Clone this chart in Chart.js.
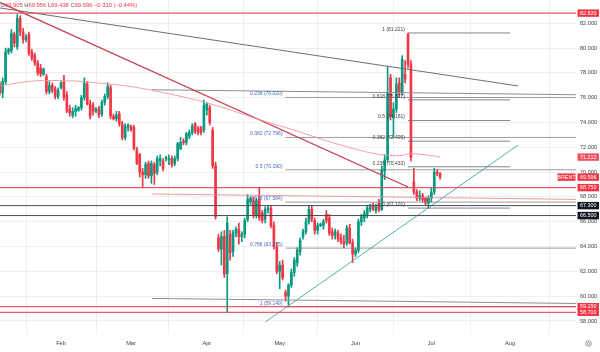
<!DOCTYPE html>
<html><head><meta charset="utf-8">
<script src="https://cdn.jsdelivr.net/npm/chart.js@4.4.1/dist/chart.umd.min.js"></script>
<style>html,body{margin:0;padding:0;background:#fff;overflow:hidden}canvas{display:block}</style>
</head><body>
<canvas id="c" width="600" height="352"></canvas>
<script>
// ---- data (daily bars, index 0 = 8 Jan) ----
const openP = [77.1,76.4,77.3,79.7,79.8,81.1,80.1,82.4,81.3,80.7, 81.1,79.7,79.4,78.8,78.4,77.9,77.7,76.5,77.0,76.7, 76.1,76.8,77.3,76.2,75.1,74.6,74.9,75.0,75.2,76.0, 77.1,75.5,75.4,74.9,75.1,74.7,75.6,76.1,76.8,74.5, 74.3,74.7,73.9,72.8,73.6,73.7,73.6,71.8,71.4,70.0, 69.8,70.7,69.7,70.6,70.0,70.9,70.9,71.1,71.0,71.1, 70.7,71.1,71.9,72.5,72.4,72.9,73.2,73.9,73.5,73.6, 73.4,75.0,75.2,73.4,70.5,64.7,63.8,64.8,61.8,65.0, 63.6,65.1,65.4,64.8,65.0,66.2,67.6,67.7,66.5,67.8, 66.7,66.2,67.0,67.1,65.7,64.0,62.0,62.5,60.3,60.0, 60.9,61.9,62.7,63.6,64.8,65.2,66.0,67.0,66.1,65.3, 65.7,65.7,66.6,66.3,65.2,64.9,65.1,64.7,64.4,64.3, 65.5,64.3,63.4,63.7,66.0,66.3,66.6,67.0,67.3,66.9, 67.5,67.0,70.1,71.0,77.6,74.4,75.1,77.2,76.4,77.9, 81.1,78.7,69.2,68.4,67.9,68.1,67.9,67.5,67.9,68.4, 70.0,69.905];
const highP = [77.3,77.6,80.0,80.0,81.5,81.3,82.7,82.6,81.6,81.1, 81.3,79.9,79.6,79.0,78.7,78.4,77.9,77.3,77.2,76.9, 76.8,77.3,77.8,76.5,75.4,75.2,75.4,75.3,76.2,77.6, 77.3,75.8,75.6,75.2,75.3,75.8,76.3,77.2,77.0,74.7, 74.9,74.9,74.1,73.9,73.9,73.8,73.8,72.0,71.5,70.3, 70.8,70.9,70.9,70.8,71.3,71.4,71.1,71.3,71.4,71.3, 71.3,72.4,72.8,72.7,73.2,73.4,73.9,74.0,73.7,73.7, 75.8,75.6,75.4,73.6,70.8,65.0,65.2,65.3,66.4,65.3, 65.3,65.6,65.9,65.2,66.3,68.2,68.0,68.0,67.9,68.75, 66.9,67.2,67.3,67.3,66.0,64.3,62.8,62.9,60.5,61.0, 62.2,63.1,63.9,64.7,65.4,66.3,67.3,67.3,66.3,65.9, 65.9,66.2,66.9,66.6,65.5,65.4,65.3,65.0,64.9,65.7, 65.8,64.6,63.9,66.2,66.6,66.9,67.3,67.4,67.5,67.4, 67.8,70.5,71.4,78.5,77.9,75.6,77.6,77.6,79.4,79.0, 81.221,79.0,70.3,68.6,68.5,68.3,68.0,68.1,68.7,70.3, 70.2,69.956];
const lowP = [76.2,76.0,77.1,79.5,79.6,80.1,79.9,81.0,80.4,80.5, 79.4,79.0,78.6,77.8,77.7,77.8,76.3,76.3,76.4,75.9, 75.9,76.7,75.8,74.8,74.5,74.4,74.5,74.9,75.0,75.8, 75.4,74.3,74.6,74.8,74.4,74.5,75.4,75.9,74.3,74.2, 74.1,73.7,72.6,72.6,73.3,73.3,71.8,70.6,69.6,68.75, 69.5,69.5,69.1,69.0,69.8,70.5,70.1,70.9,70.6,70.4, 70.5,70.9,71.8,72.2,72.2,72.7,73.0,73.1,73.0,73.0, 73.2,74.6,73.8,70.3,66.2,63.6,62.5,61.5,58.7,62.9, 63.2,64.8,64.2,64.4,64.7,66.0,67.4,66.3,66.3,66.1, 65.9,65.9,66.7,65.5,63.8,61.8,60.6,61.3,59.6,59.149, 60.7,61.6,62.4,63.3,64.6,65.0,65.8,66.0,65.0,65.0, 65.6,65.4,65.9,64.9,64.6,64.6,64.4,64.2,63.9,64.1, 64.2,62.7,63.2,63.5,65.7,66.0,66.3,66.8,66.9,66.7, 66.8,66.9,69.4,70.8,74.2,72.8,74.8,76.1,76.2,77.2, 78.4,70.9,68.2,67.7,67.7,67.6,67.3,67.101,67.6,68.2, 69.7,69.438];
const closeP = [76.4,77.3,79.7,79.9,81.2,80.4,82.4,81.3,80.7,80.9, 79.6,79.2,78.8,78.0,77.9,78.3,76.5,77.0,76.6,76.1, 76.6,77.2,76.0,74.9,74.8,74.9,75.1,75.2,76.0,77.2, 75.5,74.5,74.9,75.1,74.6,75.6,76.1,76.9,74.5,74.3, 74.6,73.9,72.8,73.7,73.8,73.4,71.9,70.7,70.0,69.8, 70.6,69.7,70.7,69.9,71.1,71.1,70.3,71.15,71.05,70.6, 71.1,72.3,72.4,72.4,73.1,73.2,73.7,73.3,73.2,73.2, 75.4,75.5,74.0,70.5,66.4,63.8,64.8,61.8,65.9,63.5, 65.1,65.4,64.8,65.0,66.1,67.8,67.9,66.5,67.7,66.3, 66.1,67.0,67.1,65.7,64.0,62.0,62.5,61.5,60.0,60.9, 61.9,62.9,63.7,64.5,65.2,66.0,67.0,66.2,65.3,65.7, 65.8,66.0,66.1,65.1,64.9,65.2,64.6,64.4,64.2,65.5, 64.3,63.4,63.7,66.0,66.4,66.7,67.1,67.2,67.0,67.2, 67.0,70.2,71.0,76.4,74.5,75.1,77.1,76.4,79.1,77.5, 78.7,71.2,68.4,67.9,68.1,67.8,67.5,67.9,68.4,70.0, 69.906,69.596];

const monthTickIdx = [21, 45, 71, 96, 122, 148, 175];
const monthLabels = ['Feb', 'Mar', 'Apr', 'May', 'Jun', 'Jul', 'Aug'];
const priceTicks = [58, 60, 62, 64, 66, 68, 70, 72, 74, 76, 78, 80, 82];

const maIdx = [0, 7, 15, 26, 34, 45, 52, 60, 69, 79, 89, 100, 110, 120, 130, 137, 141, 146, 151];
const maVal = [76.94, 77.22, 77.39, 77.35, 77.18, 76.90, 76.60, 76.22, 75.72, 75.02, 74.23, 73.46, 72.68, 71.98, 71.43, 71.33, 71.49, 71.40, 71.212];

const redLevels = [82.820, 68.750, 59.150, 58.700];
const blackLevels = [67.300, 66.500];

const fibARatios = [0.236, 0.382, 0.5, 0.618, 0.786, 1];
const fibAValues = [76.020, 72.796, 70.190, 67.584, 63.875, 59.149];
const fibAStart = 98;
const fibBRatios = [1, 0.618, 0.5, 0.382, 0.236, 0];
const fibBValues = [81.221, 75.827, 74.161, 72.495, 70.433, 67.101];
const fibBStart = 140, fibBEnd = 175;

const trendRed = [[0, 83.68], [140, 68.80]];
const trendGray = [[0, 83.24], [177.7, 76.95]];
const trendTeal = [[91.0, 57.91], [177.7, 72.18]];
const chanTop = [[52.2, 76.64], [198, 76.24]];
const chanMid = [[52.2, 68.24], [198, 67.80]];
const chanBot = [[52.2, 59.82], [198, 59.41]];

const symbol = 'BRENT';
const lastPrice = 69.596;
const maLast = 71.212;
const legOpen = 69.905, legHigh = 69.956, legLow = 69.438, legClose = 69.596, legChg = -0.310, legPct = -0.44;

// ---- styling / chart ----
const X_MIN = 0.08, X_MAX = 197.6;
const FONT = '"Liberation Sans", Arial, sans-serif';
const UP = '#089981', DOWN = '#f23645';
const colors = openP.map((o, i) => closeP[i] >= o ? UP : DOWN);

const seg = (pts, color, width, extra) => Object.assign({
  type: 'line', data: pts.map(p => ({x: p[0], y: p[1]})), borderColor: color,
  borderWidth: width, pointRadius: 0, fill: false, order: 1
}, extra || {});

const datasets = [];
datasets.push({
  type: 'bar', data: openP.map((o, i) => ({x: i, y: [lowP[i], highP[i]]})),
  backgroundColor: colors, barThickness: 1, grouped: false, order: 11, minBarLength: 1
});
datasets.push({
  type: 'bar', data: openP.map((o, i) => ({x: i, y: [o, closeP[i]]})),
  backgroundColor: colors, barThickness: 2, grouped: false, order: 10, minBarLength: 1
});
datasets.push(seg(maIdx.map((x, k) => [x, maVal[k]]), 'rgba(240,150,160,0.9)', 1, {cubicInterpolationMode: 'monotone'}));
redLevels.forEach(v => datasets.push(seg([[X_MIN, v], [X_MAX, v]], 'rgba(226,72,88,0.9)', 1.3)));
blackLevels.forEach(v => datasets.push(seg([[X_MIN, v], [X_MAX, v]], '#4a4c52', 1)));
fibAValues.forEach(v => datasets.push(seg([[fibAStart, v], [X_MAX, v]], 'rgba(120,123,134,0.75)', 1)));
fibBValues.forEach(v => datasets.push(seg([[fibBStart, v], [fibBEnd, v]], 'rgba(110,113,124,0.85)', 1)));
datasets.push(seg(trendRed, '#c9404e', 1.3));
datasets.push(seg(trendGray, '#6d6f75', 1));
datasets.push(seg(trendTeal, '#4fb3a8', 1));
datasets.push(seg(chanTop, '#8c8f97', 1));
datasets.push(seg(chanMid, 'rgba(238,140,150,0.9)', 1));
datasets.push(seg(chanBot, '#8c8f97', 1));

const zeroPad = s => { s.paddingTop = 0; s.paddingBottom = 0; s.paddingLeft = 0; s.paddingRight = 0; };

const overlay = {
  id: 'overlay',
  afterDraw(chart) {
    const {ctx, chartArea: ca} = chart;
    const xs = chart.scales.x, ys = chart.scales.y;
    ctx.save();
    ctx.beginPath(); ctx.rect(ca.left, ca.top, ca.right - ca.left, ca.bottom - ca.top); ctx.clip();
    ctx.font = '5px ' + FONT; ctx.textAlign = 'right'; ctx.textBaseline = 'bottom';
    fibARatios.forEach((r, k) => {
      ctx.fillStyle = '#4a69b5';
      ctx.fillText(r + ' (' + fibAValues[k].toFixed(3) + ')', xs.getPixelForValue(fibAStart) - 3, ys.getPixelForValue(fibAValues[k]) - 1);
    });
    fibBRatios.forEach((r, k) => {
      ctx.fillStyle = '#3d3f45';
      ctx.fillText(r + ' (' + fibBValues[k].toFixed(3) + ')', xs.getPixelForValue(fibBStart) - 3, ys.getPixelForValue(fibBValues[k]) - 1);
    });
    // OHLC legend
    ctx.font = '5.8px ' + FONT; ctx.textAlign = 'left'; ctx.textBaseline = 'middle';
    const parts = [['O', '#5d606b'], [legOpen.toFixed(3), DOWN], [' H', '#5d606b'], [legHigh.toFixed(3), DOWN],
      [' L', '#5d606b'], [legLow.toFixed(3), DOWN], [' C', '#5d606b'], [legClose.toFixed(3), DOWN],
      [' \u2212' + Math.abs(legChg).toFixed(3) + ' (\u2212' + Math.abs(legPct).toFixed(2) + '%)', DOWN]];
    let px = 0.5;
    parts.forEach(p => { ctx.fillStyle = p[1]; ctx.fillText(p[0], px, 5); px += ctx.measureText(p[0]).width; });
    ctx.restore();

    // price tags
    ctx.save();
    ctx.font = '5.4px ' + FONT; ctx.textAlign = 'center'; ctx.textBaseline = 'middle';
    const tag = (v, bg, text, x0, w) => {
      const y = ys.getPixelForValue(v);
      ctx.fillStyle = bg; ctx.fillRect(x0, y - 3.7, w, 7.4);
      ctx.fillStyle = '#fff'; ctx.fillText(text, x0 + w / 2, y + 0.3);
    };
    const tx = ca.right + 1.5, tw = 21.5;
    redLevels.forEach(v => tag(v, DOWN, v.toFixed(3), tx, tw));
    blackLevels.forEach(v => tag(v, '#131722', v.toFixed(3), tx, tw));
    tag(maLast, '#f0505f', maLast.toFixed(3), tx, tw);
    tag(lastPrice, DOWN, lastPrice.toFixed(3), tx, tw);
    tag(lastPrice, DOWN, symbol, ca.right - 18.5, 18);
    // settings icon
    ctx.strokeStyle = '#7b7e87'; ctx.lineWidth = 0.8;
    ctx.beginPath(); ctx.arc(588.5, 343.5, 2.8, 0, Math.PI * 2); ctx.stroke();
    ctx.beginPath(); ctx.arc(588.5, 343.5, 1, 0, Math.PI * 2); ctx.stroke();
    ctx.restore();
  }
};

new Chart(document.getElementById('c'), {
  type: 'bar',
  data: {datasets},
  options: {
    responsive: false, animation: false, devicePixelRatio: 1, events: [],
    layout: {padding: 0},
    plugins: {legend: {display: false}, tooltip: {enabled: false}, title: {display: false}},
    scales: {
      x: {
        type: 'linear', min: X_MIN, max: X_MAX, offset: false,
        afterBuildTicks: s => { s.ticks = monthTickIdx.map(v => ({value: v})); },
        afterFit: s => { s.height = 18; zeroPad(s); },
        ticks: {autoSkip: false, maxRotation: 0, padding: 6, color: '#3b3e47',
          font: {size: 5.6, family: FONT},
          callback: v => { const k = monthTickIdx.indexOf(v); return k >= 0 ? monthLabels[k] : ''; }},
        grid: {color: 'rgba(42,46,57,0.07)', drawTicks: false, lineWidth: 1},
        border: {display: false}
      },
      y: {
        type: 'linear', position: 'right', min: 56.95, max: 83.878,
        afterBuildTicks: s => { s.ticks = priceTicks.map(v => ({value: v})); },
        afterFit: s => { s.width = 24; zeroPad(s); },
        ticks: {padding: 4, color: '#3b3e47', font: {size: 5.6, family: FONT},
          callback: v => Number(v).toFixed(3)},
        grid: {color: 'rgba(42,46,57,0.07)', drawTicks: false, lineWidth: 1},
        border: {display: false}
      }
    }
  },
  plugins: [overlay]
});
</script>
</body></html>
